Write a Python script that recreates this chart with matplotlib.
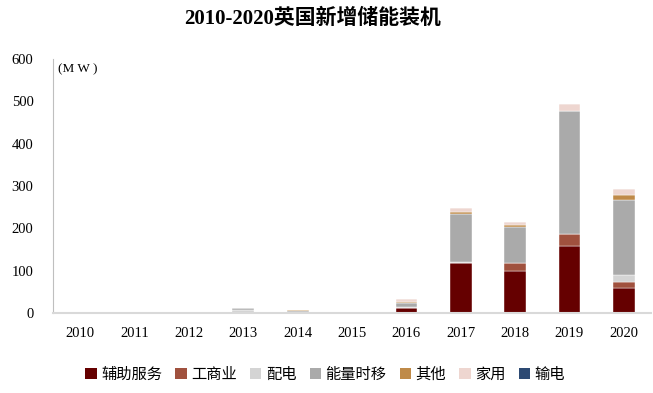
import matplotlib
matplotlib.use("Agg")
import matplotlib.pyplot as plt
from matplotlib.patches import Patch
import numpy as np

years = ["2010", "2011", "2012", "2013", "2014", "2015", "2016", "2017", "2018", "2019", "2020"]
series_names = ["辅助服务", "工商业", "配电", "能量时移", "其他", "家用", "输电"]
aux = [0, 0, 0, 0, 0, 0, 12, 118, 98, 159, 60]
commercial = [0, 0, 0, 0, 0, 0, 0, 1, 19, 28, 13]
distribution = [0, 0, 0, 8, 0, 0, 2, 1, 0, 0, 17]
time_shift = [0, 2, 0, 3, 4, 1, 10, 114, 87, 291, 176]
other = [0, 0, 0, 0, 2, 0, 3, 4, 3, 0, 12]
home = [0, 0, 0, 0, 0, 0, 5, 10, 9, 16, 14]
transmission = [0, 0, 0, 0, 0, 0, 0, 0, 0, 0, 0]
yticks = [0, 100, 200, 300, 400, 500, 600]

colors = ["#650000", "#A0513E", "#D4D4D4", "#AAAAAA", "#BF8A48", "#EED6D0", "#2D4A73"]
data = [aux, commercial, distribution, time_shift, other, home, transmission]

plt.rcParams['font.family'] = ['Noto Sans CJK SC', 'DejaVu Sans']

fig = plt.figure(figsize=(6.53, 3.93), dpi=100)
ax = fig.add_axes([0.0812, 0.2036, 0.9158, 0.6463])

x = np.arange(len(years))
bottom = np.zeros(len(years))
for vals, c in zip(data, colors):
    v = np.array(vals, dtype=float)
    ax.bar(x, v, 0.4, bottom=bottom, color=c, edgecolor="white", linewidth=0.3)
    bottom += v

ax.set_xlim(-0.5, len(years) - 0.5)
ax.set_ylim(0, 600)
ax.set_yticks(yticks)
ax.set_xticks(x)
ax.set_xticklabels(years, fontfamily="Liberation Serif", fontsize=10.5)
ax.set_yticklabels([str(t) for t in yticks], fontfamily="Liberation Serif", fontsize=10.5)
ax.tick_params(length=0)
ax.tick_params(axis='y', pad=14)
ax.tick_params(axis='x', pad=10)
for s in ["top", "right"]:
    ax.spines[s].set_visible(False)
ax.spines["left"].set_color("#BFBFBF")
ax.spines["left"].set_linewidth(0.8)
ax.spines["bottom"].set_color("#D9D9D9")
ax.spines["bottom"].set_linewidth(1.5)

ax.text(0.008, 0.985, "(M W )", transform=ax.transAxes, ha="left", va="top",
        fontsize=9.5, fontfamily="Liberation Serif")

fig.text(0.479, 0.952, "2010-2020英国新增储能装机", ha="center", va="center",
         fontsize=15, fontweight="bold",
         fontfamily=["Liberation Serif", "Noto Sans CJK SC"])

handles = [Patch(facecolor=c, edgecolor="none") for c in colors]
fig.legend(handles, series_names, loc="center", bbox_to_anchor=(0.498, 0.048), ncol=7,
           frameon=False, fontsize=11, handlelength=0.75, handleheight=0.75,
           handletextpad=0.3, columnspacing=0.85)

fig.savefig("out.png", dpi=100)
